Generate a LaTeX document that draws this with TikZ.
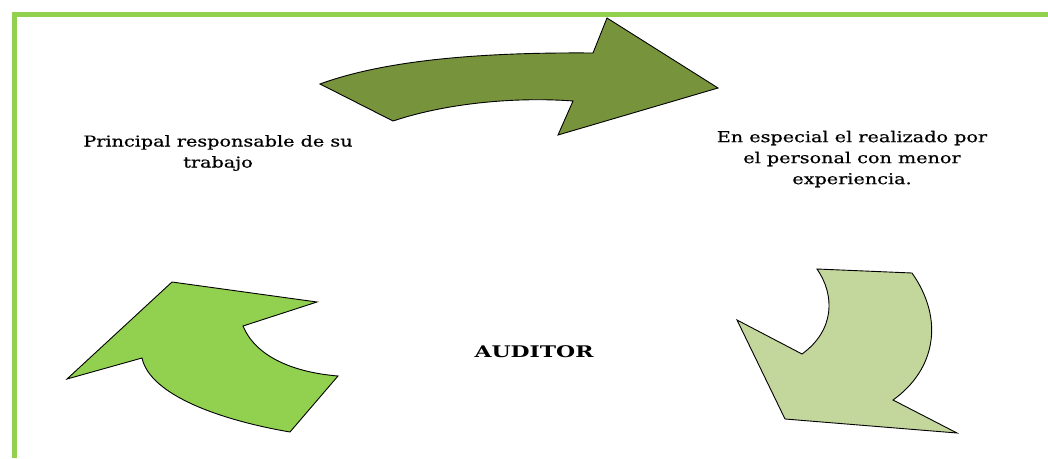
\documentclass[tikz,border=0pt]{standalone}
\usepackage{fontspec}
\newfontfamily\widefont[FakeStretch=1.28,FakeBold=0.6]{DejaVu Serif}
\newfontfamily\widebold[FakeStretch=1.37]{DejaVu Serif Bold}
\definecolor{framegreen}{HTML}{92D050}
\definecolor{darkolive}{HTML}{77933C}
\definecolor{brightgreen}{HTML}{92D050}
\definecolor{palegreen}{HTML}{C3D69B}
\tikzset{
  arrowshape/.style={draw=black, line width=0.9pt, line join=miter},
  label/.style={align=center, inner sep=0pt, font=\widefont\fontsize{15}{21}\selectfont},
  center label/.style={inner sep=0pt, font=\widebold\fontsize{16}{18}\selectfont}
}
\begin{document}
\begin{tikzpicture}[x=1pt, y=-1pt]
\useasboundingbox (0,0) rectangle (1048,458);
% frame
\draw[framegreen, line width=5pt] (14,458) -- (14,14.5) -- (1048,14.5);
% top arrow
\path[arrowshape, fill=darkolive]
  (320,84) .. controls (380,62) and (470,52) .. (593,53) -- (607,18) -- (718,88)
  -- (558,135) -- (573,101) .. controls (520,97) and (450,102) .. (393,121) -- cycle;
% left arrow
\path[arrowshape, fill=brightgreen]
  (172,282) -- (317,302) -- (243,326) .. controls (255,355) and (290,372) .. (338,376)
  -- (290,432) .. controls (220,420) and (150,395) .. (142,358) -- (67,379) -- cycle;
% right arrow
\path[arrowshape, fill=palegreen]
  (817,269) -- (912,273) .. controls (945,320) and (935,370) .. (893,400) -- (957,433)
  -- (785,419) -- (737,320) -- (802,354) .. controls (835,330) and (835,295) .. (817,269) -- cycle;
% texts
\node[label] (resp) at (218,153) {Principal responsable de su\\trabajo};
\node[label] (esp) at (852,159) {En especial el realizado por\\el personal con menor\\experiencia.};
\node[center label] (aud) at (534,352) {AUDITOR};
\end{tikzpicture}
\end{document}
